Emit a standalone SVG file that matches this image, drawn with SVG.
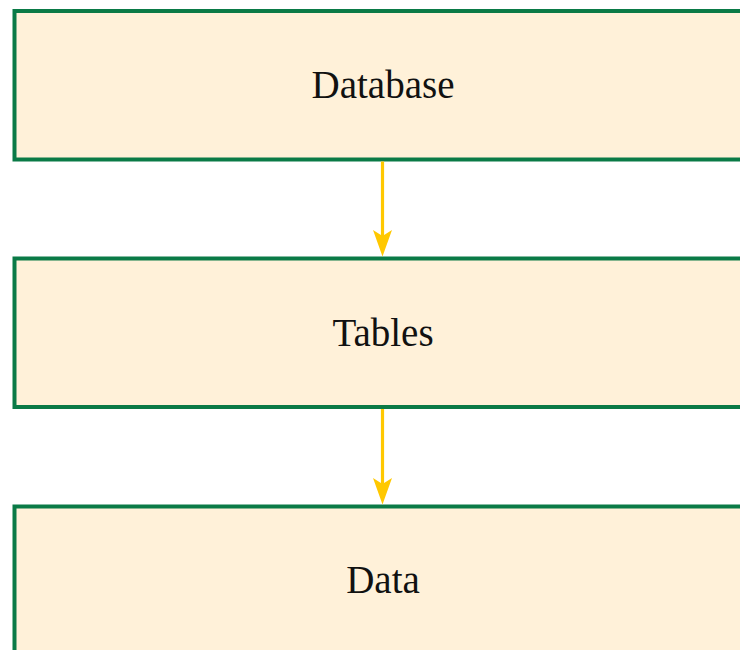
<svg xmlns="http://www.w3.org/2000/svg" width="740" height="650" viewBox="0 0 740 650">
<style>
.box{fill:#FFF1D9;stroke:#0A7A46;stroke-width:4}
.lbl{font-family:"Liberation Serif",serif;font-size:39px;fill:#111;text-anchor:middle}
.edge{stroke:#FFC800;stroke-width:3.2;fill:none}
.head{fill:#FFC800}
</style>
<rect width="740" height="650" fill="#fff"/>
<g id="database"><rect class="box" x="14.5" y="11" width="735" height="148.5"/><text class="lbl" x="383" y="98">Database</text></g>
<g id="tables"><rect class="box" x="14.5" y="258.5" width="735" height="148.5"/><text class="lbl" x="383" y="345.5">Tables</text></g>
<g id="data"><rect class="box" x="14.5" y="506.5" width="735" height="160"/><text class="lbl" x="383" y="593">Data</text></g>
<g id="connectors">
<line class="edge" x1="382.5" y1="161.5" x2="382.5" y2="240"/>
<path class="head" d="M373,230 L382.5,236 L392,230 L382.5,256.5 Z"/>
<line class="edge" x1="382.5" y1="409" x2="382.5" y2="488"/>
<path class="head" d="M373,478 L382.5,484 L392,478 L382.5,504.5 Z"/>
</g>
</svg>
